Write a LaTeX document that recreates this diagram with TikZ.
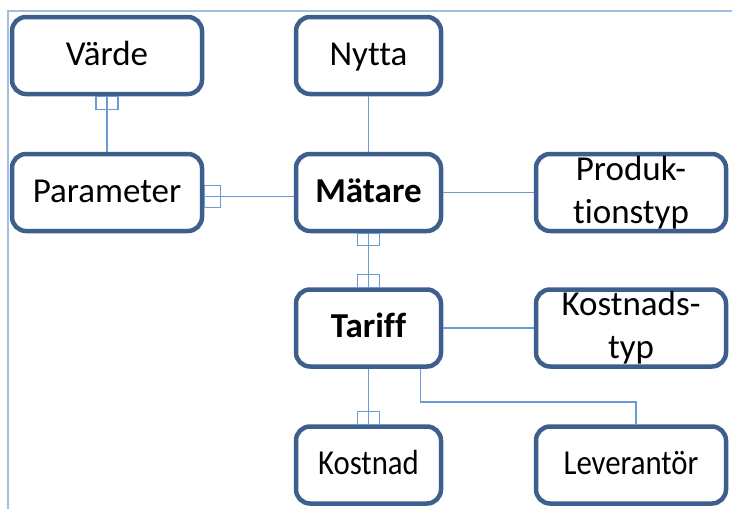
\documentclass[tikz,border=0pt]{standalone}
\usepackage{fontspec}
\setmainfont{Carlito}[Ligatures=NoCommon]
\usepackage{graphicx}
\usetikzlibrary{shapes,arrows}

\definecolor{boxblue}{HTML}{3D5F8E}
\definecolor{linkblue}{HTML}{6D9AD2}
\definecolor{framblue}{HTML}{A3BEE0}

\begin{document}
\begin{tikzpicture}[x=1pt,y=-1pt,
	entity/.style={draw=boxblue,line width=4.5pt,rounded corners=14pt,
		fill=white,inner sep=0pt,align=center,
		font=\fontsize{35}{43}\selectfont},
	wide/.style={entity,minimum width=190pt,minimum height=77pt},
	narrow/.style={entity,minimum width=145pt,minimum height=77pt},
	oneline/.style={text height=25pt,text depth=6pt},
	link/.style={draw=linkblue,line width=1.3pt}]

	\useasboundingbox (0,0) rectangle (732,509);

	% frame
	\draw[framblue,line width=1.5pt]
		(732,11)--(8,11)--(8,509);

	% entities
	\node[wide,oneline] (varde) at (107,55.5) {Värde};
	\node[wide,oneline] (param) at (107,192.5) {Parameter};
	\node[narrow,oneline] (nytta) at (368.5,55.5) {Nytta};
	\node[narrow,oneline] (matare) at (368.5,192.5) {\textbf{Mätare}};
	\node[wide] (prod) at (631,192.5) {Produk-\\tionstyp};
	\node[narrow,oneline] (tariff) at (368.5,328) {\textbf{Tariff}};
	\node[wide] (ktyp) at (631,328) {Kostnads-\\typ};
	\node[narrow,oneline] (kostnad) at (368.5,465) {\scalebox{0.88}[1]{Kostnad}};
	\node[wide,oneline] (lev) at (631,465) {\scalebox{0.88}[1]{Leverantör}};

	% links
	\draw[link] (varde.south) -- (param.north);
	\draw[link] (nytta.south) -- (matare.north);
	\draw[link] ([yshift=-4pt]param.east) -- ([yshift=-4pt]param.east -| matare.west);
	\draw[link] (matare.east) -- (prod.west);
	\draw[link] (matare.south) -- (tariff.north);
	\draw[link] (tariff.east) -- (ktyp.west);
	\draw[link] (tariff.south) -- (kostnad.north);
	\draw[link] ([xshift=52pt]tariff.south) |- ([xshift=5pt]lev.north |- 0,402)
		-- ([xshift=5pt]lev.north);

	% one-marks
	\draw[link]
		(varde.south) ++(-11,0) rectangle ++(22,13)
		(param.east) ++(0,-7) rectangle ++(16,22)
		(matare.south) ++(-11,0) rectangle ++(22,12)
		(tariff.north) ++(-11,0) rectangle ++(22,-13)
		(kostnad.north) ++(-11,0) rectangle ++(22,-13);

\end{tikzpicture}
\end{document}
